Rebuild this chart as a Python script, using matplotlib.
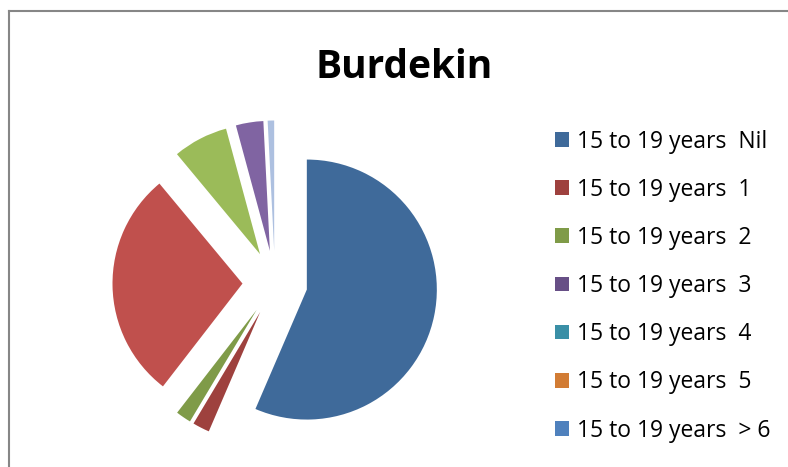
import matplotlib.pyplot as plt
from matplotlib.lines import Line2D

# legend categories
labels = ['15 to 19 years  Nil', '15 to 19 years  1', '15 to 19 years  2',
          '15 to 19 years  3', '15 to 19 years  4', '15 to 19 years  5',
          '15 to 19 years  > 6']
values = [56.3, 2.1, 1.9, 0, 0, 0, 0]
colors = ['#3F6A9A', '#9E413E', '#7F9B48', '#674F86', '#3A8FA6', '#D27C34', '#4F81BD']

# further points in the series (no legend entries shown)
extra_values = [28.4, 6.8, 3.4, 0, 0, 0.8]
extra_colors = ['#C0504D', '#9BBB59', '#8064A2', '#4BACC6', '#F79646', '#ADC0E0']

all_values = values + extra_values
all_colors = colors + extra_colors

fig = plt.figure(figsize=(7.88, 4.67), dpi=100)

# pie area: centre ~ (275, 283) px, radius ~130 px
W, H = 788, 467
cx, cy, half = 275, 467 - 283, 182
ax = fig.add_axes([(cx - half) / W, (cy - half) / H, 2 * half / W, 2 * half / H])
wedges, _ = ax.pie(all_values, colors=all_colors, explode=[0.25] * len(all_values),
                   startangle=90, counterclock=False, radius=1,
                   wedgeprops=dict(linewidth=0))
ax.set_xlim(-1.4, 1.4)
ax.set_ylim(-1.4, 1.4)
ax.axis('off')

# タイトル
fig.text(404.5 / W, 1 - 78 / H, 'Burdekin', ha='center', va='baseline',
         fontsize=28, fontweight='bold', family='Open Sans')

# 凡例
fig.legend(wedges[:7], labels, loc='upper left', bbox_to_anchor=(555 / W, 1 - 129.5 / H),
           frameon=False, prop={'family': 'Open Sans', 'size': 16.5},
           handlelength=0.6, handleheight=0.6, handletextpad=0.35,
           labelspacing=1.055, borderpad=0, borderaxespad=0)

# 枠線 (chart area border)
fig.add_artist(Line2D([8.5 / W, 1], [1 - 11 / H, 1 - 11 / H], color='#868686', lw=1.5))
fig.add_artist(Line2D([8.5 / W, 8.5 / W], [0, 1 - 11 / H], color='#868686', lw=1.5))

fig.savefig('out.png', dpi=100)
